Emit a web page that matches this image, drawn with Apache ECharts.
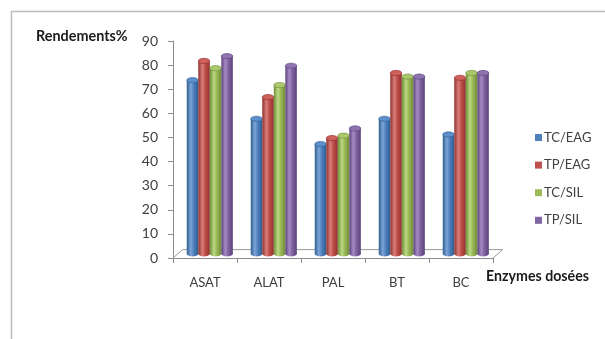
<!DOCTYPE html>
<html>
<head>
<meta charset="utf-8">
<script src="https://cdn.jsdelivr.net/npm/echarts@6/dist/echarts.min.js"></script>
<style>
  html, body { margin: 0; padding: 0; background: #fff; }
  #chart { width: 605px; height: 339px; }
</style>
</head>
<body>
<div id="chart"></div>
<script>
// Enzymes measured and yields (%) per extraction condition
const categories = ['ASAT', 'ALAT', 'PAL', 'BT', 'BC'];
const seriesNames = ['TC/EAG', 'TP/EAG', 'TC/SIL', 'TP/SIL'];
const tcEag = [72, 56, 45.5, 56, 49.5];
const tpEag = [80, 65, 48, 75, 73];
const tcSil = [77, 70, 49, 73.5, 75];
const tpSil = [82, 78, 52, 73.5, 75];
const yTicks = { min: 0, max: 90, interval: 10 };

const seriesValues = [tcEag, tpEag, tcSil, tpSil];
// base colour, dark edge, light highlight, top cap
const palette = [
  ['#4F81BD', '#2f5c8f', '#7ea6d8', '#5d8fcc'],
  ['#C0504D', '#8e2f2d', '#d97c79', '#cf605c'],
  ['#9BBB59', '#6f8c36', '#bcd785', '#a9c96a'],
  ['#8064A2', '#5a4378', '#a68cc6', '#8f74b2']
];

// oblique depth used for the pseudo-3D floor and columns
const DEPTH_X = 9.6, DEPTH_Y = -8.4;
const FONT = 'Lato, "Open Sans", sans-serif';

function cylinderSeries(idx) {
  const cols = palette[idx];
  return {
    type: 'custom',
    name: seriesNames[idx],
    itemStyle: { color: cols[0] },
    data: seriesValues[idx].map((v, i) => [i, v]),
    encode: { x: 0, y: 1 },
    z: 5,
    renderItem: function (params, api) {
      const cat = api.value(0);
      const val = api.value(1);
      const top = api.coord([cat, val]);
      const base = api.coord([cat, 0]);
      const catW = api.size([1, 0])[0];
      const bw = catW * 0.18;
      const dx = DEPTH_X / 2, dy = DEPTH_Y / 2;
      const cx = top[0] + (idx - 1.5) * bw + dx;
      const x0 = cx - bw / 2;
      const yTop = top[1] + dy;
      const yBase = base[1] + dy;
      const ry = 2.6;
      const grad = new echarts.graphic.LinearGradient(0, 0, 1, 0, [
        { offset: 0, color: cols[1] },
        { offset: 0.35, color: cols[2] },
        { offset: 0.6, color: cols[0] },
        { offset: 1, color: cols[1] }
      ]);
      return {
        type: 'group',
        children: [
          { type: 'ellipse', shape: { cx: cx, cy: yBase, rx: bw / 2, ry: ry },
            style: { fill: grad } },
          { type: 'rect', shape: { x: x0, y: yTop, width: bw, height: yBase - yTop },
            style: { fill: grad } },
          { type: 'ellipse', shape: { cx: cx, cy: yTop, rx: bw / 2, ry: ry },
            style: { fill: cols[3], stroke: cols[1], lineWidth: 0.6 } }
        ]
      };
    }
  };
}

// floor of the plot: a parallelogram behind the category axis
const floorSeries = {
  type: 'custom',
  silent: true,
  data: [[0, 0]],
  z: 1,
  renderItem: function (params, api) {
    const cs = params.coordSys;
    const yb = cs.y + cs.height;
    const xl = cs.x, xr = cs.x + cs.width;
    return {
      type: 'polyline',
      shape: { points: [
        [xl, yb], [xl + DEPTH_X, yb + DEPTH_Y],
        [xr + DEPTH_X, yb + DEPTH_Y], [xr, yb]
      ] },
      style: { stroke: '#9a9a9a', lineWidth: 1, fill: null }
    };
  }
};

const chart = echarts.init(document.getElementById('chart'));
chart.setOption({
  backgroundColor: '#ffffff',
  animation: false,
  title: [
    { text: 'Rendements%', left: 36, top: 29.5, padding: 0,
      textStyle: { fontFamily: FONT, fontSize: 14.4, fontWeight: 'bold', color: '#1a1a1a' } },
    { text: 'Enzymes dosées', left: 486, top: 269.5, padding: 0,
      textStyle: { fontFamily: FONT, fontSize: 14.2, fontWeight: 'bold', color: '#1a1a1a' } }
  ],
  legend: {
    orient: 'vertical',
    left: 535,
    top: 131,
    padding: 0,
    itemWidth: 7,
    itemHeight: 7,
    itemGap: 14.6,
    icon: 'rect',
    data: seriesNames,
    textStyle: { fontFamily: FONT, fontSize: 13, color: '#404040', padding: [0, 0, 0, -3] }
  },
  grid: { left: 173, right: 112, top: 41, bottom: 81 },
  xAxis: {
    type: 'category',
    data: categories,
    boundaryGap: true,
    axisLine: { lineStyle: { color: '#8c8c8c', width: 1 } },
    axisTick: { show: true, length: 5, lineStyle: { color: '#8c8c8c' } },
    axisLabel: { margin: 18, fontFamily: FONT, fontSize: 13, color: '#404040' }
  },
  yAxis: {
    type: 'value',
    min: yTicks.min,
    max: yTicks.max,
    interval: yTicks.interval,
    splitLine: { show: false },
    axisLine: { show: true, lineStyle: { color: '#8c8c8c', width: 1 } },
    axisTick: { show: true, length: 5, lineStyle: { color: '#8c8c8c' } },
    axisLabel: { margin: 15, fontFamily: FONT, fontSize: 14, color: '#404040' }
  },
  graphic: [
    { type: 'polyline', silent: true,
      shape: { points: [[11.5, 339], [11.5, 11.5], [605, 11.5]] },
      style: { stroke: '#bdbdbd', lineWidth: 1.5, fill: null } }
  ],
  series: [floorSeries, cylinderSeries(0), cylinderSeries(1), cylinderSeries(2), cylinderSeries(3)]
});
</script>
</body>
</html>
